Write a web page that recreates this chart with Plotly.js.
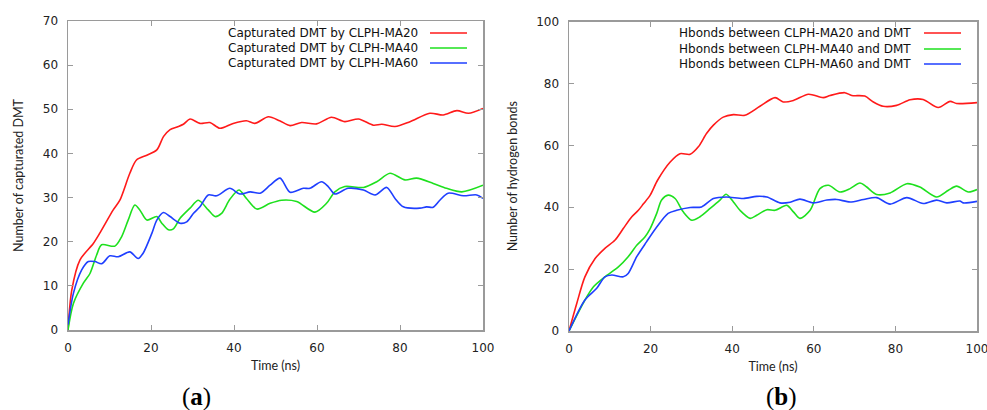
<!DOCTYPE html>
<html>
<head>
<meta charset="utf-8">
<script src="https://cdn.plot.ly/plotly-3.0.1.min.js"></script>
<style>html,body{margin:0;padding:0;background:#fff;}#chart{width:987px;height:410px;}</style>
</head>
<body>
<div id="chart"></div>
<script>
// ---------- Panel (a): captured DMT ----------
var tA20 = [0,0.9,2.9,6.1,7.7,10.9,12.5,14.9,16.5,19,21.4,23,24.6,26.3,27.8,29.4,31.8,34.2,36.6,39.8,43,45,48.3,51,53.5,56.3,59.9,63.5,66.7,70,73.6,75.6,78.8,82.4,87.2,90.4,93.7,96.5,100];
var vA20 = [0,9,15.9,19.6,22,27.2,29.4,35.5,38.5,39.6,40.8,43.8,45.4,46,46.6,47.8,46.8,47,45.7,46.8,47.4,46.8,48.3,47.4,46.3,47,46.7,48.2,47.2,47.8,46.4,46.6,46.1,47.2,49.1,48.7,49.7,49.1,50.2];

var tA40 = [0,1.3,3.7,5.3,6.9,8.1,11.3,12.9,14.5,16.1,17.3,19,21.4,22.6,24.2,25.4,27,29.4,31.4,33.8,35.4,37,39,41.2,43,45.5,48.7,51.5,55.1,59.5,62.3,64.3,66.7,71.2,74.4,77.6,81.2,84,88,91.2,94.9,100];
var vA40 = [0,6,10.6,12.8,17,19.3,19,21.1,24.9,28.3,27.2,24.9,25.7,24.2,22.7,22.9,25.3,27.6,29.4,27.2,25.7,26.4,29.6,31.7,29.8,27.4,28.7,29.4,29.1,26.7,28.7,31.3,32.5,32.3,33.6,35.5,34,34.4,33.2,32.1,31.3,32.8];

var tA60 = [0,1.3,3.3,4.9,6.5,8.1,10.1,12.1,14.9,16.9,18.1,20.2,21.4,23,24.6,27,28.6,30.2,31.8,33.8,35.8,39,41.4,43.9,46.3,48.7,51.1,53.5,56.7,58.3,61.1,62.7,64.3,67.5,71.2,74,76.8,78.8,80.8,84.8,86.4,88,89.6,91.6,95.3,98.5,100];
var vA60 = [1.2,8.3,13.6,15.5,15.5,15,16.8,16.6,17.7,16.2,17.4,21.9,24.9,26.6,25.7,24.2,24.5,26.4,27.9,30.6,30.4,32.1,30.8,31.3,31,32.8,34.4,31.2,32.1,32.1,33.6,32.5,30.8,32.1,31.7,30.6,32.3,29.8,27.9,27.6,27.9,27.8,29.4,31,30.4,30.6,29.8];

// ---------- Panel (b): hydrogen bonds ----------
var tB20 = [0,1.9,3.9,6.4,8.8,11.3,13.3,15.4,17,18.2,19.9,21.7,24.8,27.2,29.7,31.7,33.7,35.4,37.8,40.3,43.1,46.8,50.5,52.5,55,58.7,62.3,64,67.6,69.3,72.5,74.6,77,80.3,83.6,86.8,90.5,93.4,95,100];
var vB20 = [0,8.9,17.5,23.4,26.7,29.4,33.1,36.9,39,41,43.9,48.7,54.6,57.3,57.1,59.5,63.8,66.5,69.1,69.9,69.7,72.6,75.4,74,74.5,76.5,75.4,76.1,77,76.1,75.9,74,72.6,72.9,74.7,74.8,72.2,74.2,73.5,73.8];

var tB40 = [0,3.9,6,8.8,12.1,14.5,16.6,18.6,19.9,21.5,22.7,24.3,26,28,30.1,32.1,34.6,37,38.5,40.3,41.9,44.4,46,48.5,50.5,53.4,55,56.6,59.1,61.5,63.6,66.4,68.9,71.3,72.9,75.4,78.7,82.8,86,90.1,93,95,97.9,100];
var vB40 = [0,10,14.3,17.5,20.7,24,27.7,30.4,33.1,38,42.3,43.9,42.8,38.5,35.8,36.9,39.6,42.3,44.2,41.7,39,36.4,37.4,39.2,39,40.6,38.5,36.4,39,46,47.1,44.9,46,47.8,46.6,44.1,44.6,47.6,46.5,43.3,45.5,46.8,44.9,45.7];

var tB60 = [0,3.9,6.8,8.8,10.5,13.3,14.5,16.6,19,21.5,24.3,26.4,29.7,32.5,35.4,38.6,42.7,46,48.5,51.7,54.2,56.6,59.9,63.2,65.6,68.9,72.2,75.4,78.7,82.8,86.8,90.1,92.6,95.8,96.6,100];
var vB60 = [0,10,13.8,17.5,18.1,17.5,18.6,24,28.8,33.6,38,39,39.9,40.1,42.8,43.3,42.8,43.5,43.3,41.4,41.6,42.6,41.4,42.3,42.5,41.7,42.5,43.1,41,43.1,41.2,42.3,41.4,42,41.4,41.9];

var namesA = ["Capturated DMT by CLPH-MA20","Capturated DMT by CLPH-MA40","Capturated DMT by CLPH-MA60"];
var namesB = ["Hbonds between CLPH-MA20 and DMT","Hbonds between CLPH-MA40 and DMT","Hbonds between CLPH-MA60 and DMT"];
var xTitle = "Time (ns)";
var yTitleA = "Number of capturated DMT";
var yTitleB = "Number of hydrogen bonds";
var panelLabels = ["(<b>a</b>)","(<b>b</b>)"];

var colors = ["#ff1a1a","#1ee01e","#1f3fff"];
var W = 987, H = 410;

function tr(x, y, name, c, xa, ya){
  return {x:x, y:y, name:name, type:"scatter", mode:"lines", xaxis:xa, yaxis:ya,
    line:{color:c, width:1.6, shape:"spline", smoothing:0.8}, showlegend:false, hoverinfo:"x+y+name"};
}
var data = [
  tr(tA20,vA20,namesA[0],colors[0],"x","y"),
  tr(tA40,vA40,namesA[1],colors[1],"x","y"),
  tr(tA60,vA60,namesA[2],colors[2],"x","y"),
  tr(tB20,vB20,namesB[0],colors[0],"x2","y2"),
  tr(tB40,vB40,namesB[1],colors[1],"x2","y2"),
  tr(tB60,vB60,namesB[2],colors[2],"x2","y2")
];

var tickFont = {family:"DejaVu Sans, Verdana, sans-serif", size:12, color:"#222"};
var titleFont = {family:"Lato, Open Sans, sans-serif", size:12.5, color:"#222"};
function axis(domain, range, dtick, anchor, title, standoff){
  return {domain:domain, range:range, dtick:dtick, tick0:0, anchor:anchor,
    showgrid:false, zeroline:false, showline:true, linecolor:"#9a9a9a", linewidth:1.5,
    mirror:"ticks", ticks:"inside", ticklen:5, tickwidth:1, tickcolor:"#9a9a9a",
    tickfont:tickFont, ticklabelstandoff:6, ticklabeloverflow:"allow", fixedrange:true,
    title:{text:title, font:titleFont, standoff:standoff}};
}
var x1d = [68/W, 483/W], x2d = [569/W, 977/W];
var y1d = [1-330/H, 1-21/H], y2d = [1-331/H, 1-21.5/H];

var annotations = [], shapes = [];
function legend(names, xr, lx0, lx1, rows){
  for (var i=0;i<names.length;i++){
    annotations.push({xref:"paper", yref:"paper", x:xr/W, y:1-rows[i]/H, xanchor:"right", yanchor:"middle",
      text:names[i], showarrow:false, font:{family:"DejaVu Sans, Verdana, sans-serif", size:12, color:"#111"}});
    shapes.push({type:"line", xref:"paper", yref:"paper", x0:lx0/W, x1:lx1/W, y0:1-rows[i]/H, y1:1-rows[i]/H,
      line:{color:colors[i], width:1.6}});
  }
}
legend(namesA, 420, 430, 467, [33,48,63]);
legend(namesB, 913, 924, 961, [33,49,64]);
annotations.push({xref:"paper", yref:"paper", x:196/W, y:1-397/H, xanchor:"center", yanchor:"middle",
  text:panelLabels[0], showarrow:false, font:{family:"Liberation Serif, DejaVu Serif, serif", size:25, color:"#000"}});
annotations.push({xref:"paper", yref:"paper", x:781/W, y:1-397/H, xanchor:"center", yanchor:"middle",
  text:panelLabels[1], showarrow:false, font:{family:"Liberation Serif, DejaVu Serif, serif", size:25, color:"#000"}});

var layout = {
  width:W, height:H, margin:{l:0,r:0,t:0,b:0}, paper_bgcolor:"#fff", plot_bgcolor:"#fff",
  showlegend:false,
  xaxis: axis(x1d,[0,100],20,"y",xTitle,7),
  yaxis: axis(y1d,[0,70],10,"x",yTitleA,16),
  xaxis2: axis(x2d,[0,100],20,"y2",xTitle,7),
  yaxis2: axis(y2d,[0,100],20,"x2",yTitleB,16),
  annotations:annotations, shapes:shapes
};
Plotly.newPlot("chart", data, layout, {displayModeBar:false, staticPlot:true});
</script>
</body>
</html>
